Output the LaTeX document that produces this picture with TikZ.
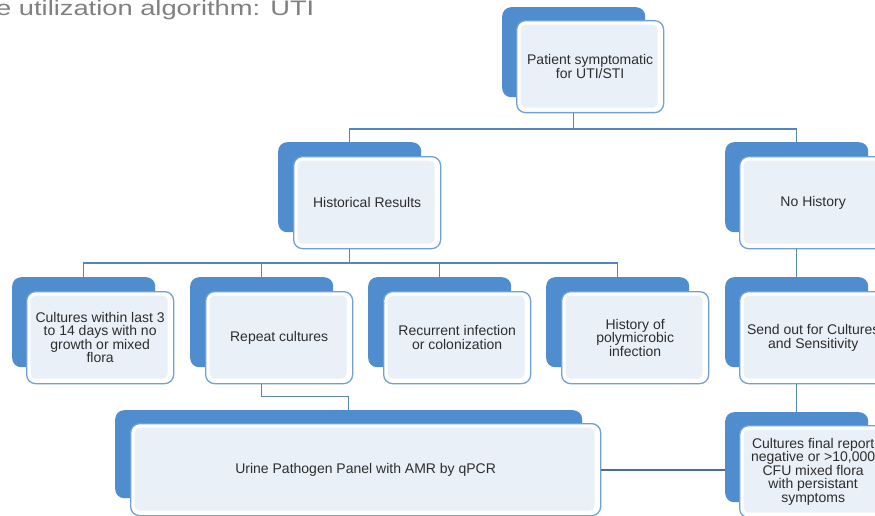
\documentclass[tikz,border=0pt]{standalone}
\usepackage{fontspec}
\setmainfont{Liberation Sans}
\usepackage{graphicx}
\begin{document}
\begin{tikzpicture}[x=1pt, y=-1pt,
    backbox/.style={fill=boxblue, rounded corners=9pt, minimum width=143pt, minimum height=90pt, anchor=north west, inner sep=0pt},
    frontbox/.style={draw=edgeblue, line width=1.3pt, fill=white, rounded corners=9pt, minimum width=147pt, minimum height=92pt, anchor=north west, inner sep=2pt, align=center, text=textgray, font={\fontsize{14}{13.5}\selectfont},
        path picture={\fill[panefill, rounded corners=5pt] ([xshift=4pt,yshift=5pt]path picture bounding box.south west) rectangle ([xshift=-6pt,yshift=-4pt]path picture bounding box.north east);}},
    link/.style={draw=linkblue, line width=1.5pt}]
    % Define colors
    \definecolor{boxblue}{RGB}{80, 141, 206}
    \definecolor{edgeblue}{RGB}{112, 160, 214}
    \definecolor{panefill}{RGB}{234, 240, 248}
    \definecolor{linkblue}{RGB}{86, 133, 190}
    \definecolor{darklink}{RGB}{68, 108, 168}
    \definecolor{textgray}{RGB}{45, 45, 45}
    \definecolor{titlegray}{RGB}{128, 128, 128}

    % Canvas
    \useasboundingbox (0, 0) rectangle (875, 516);
    \fill[white] (0, 0) rectangle (875, 516);

    % Title (cut at the left edge)
    \node[anchor=base west, text=titlegray, font={\fontsize{21}{21}\selectfont}, inner sep=0pt] (title) at (-4, 16) {\scalebox{1.3}[1]{e utilization algorithm: UTI}};

    % Top
    \node[backbox] (top-b) at (502, 7) {};
    \node[frontbox] (top) at (516, 20) {Patient symptomatic\\for UTI/STI};

    % Second level
    \node[backbox] (hist-b) at (278, 142) {};
    \node[frontbox] (hist) at (293, 156) {Historical Results};
    \node[backbox] (nohist-b) at (725, 142) {};
    \node[frontbox] (nohist) at (739, 156) {No History};

    % Third level
    \node[backbox] (cult-b) at (12, 277) {};
    \node[frontbox] (cult) at (26, 291) {Cultures within last 3\\to 14 days with no\\growth or mixed\\flora};
    \node[backbox] (rep-b) at (190, 277) {};
    \node[frontbox] (rep) at (205, 291) {Repeat cultures};
    \node[backbox] (recur-b) at (368, 277) {};
    \node[frontbox] (recur) at (383, 291) {Recurrent infection\\or colonization};
    \node[backbox] (poly-b) at (546, 277) {};
    \node[frontbox] (poly) at (561, 291) {History of\\polymicrobic\\infection};
    \node[backbox] (send-b) at (725, 277) {};
    \node[frontbox] (send) at (739, 291) {Send out for Cultures\\and Sensitivity};

    % Bottom
    \node[backbox, minimum width=467pt, minimum height=88pt] (urine-b) at (115, 410) {};
    \node[frontbox, minimum width=470pt] (urine) at (130, 423) {Urine Pathogen Panel with AMR by qPCR};
    \node[backbox] (final-b) at (725, 412) {};
    \node[frontbox] (final) at (739, 425) {Cultures final report\\negative or >10,000\\CFU mixed flora\\with persistant\\symptoms};

    % Connectors
    \coordinate (bus1) at (0, 129);
    \coordinate (bus2) at (0, 263);
    \draw[link] (top-b.center |- top.south) -- (top-b.center |- bus1);
    \draw[link] (hist-b.north) -- (hist-b.north |- bus1) -- (nohist-b.north |- bus1) -- (nohist-b.north);
    \draw[link] (hist-b.center |- hist.south) -- (hist-b.center |- bus2);
    \draw[link] (cult-b.north) -- (cult-b.north |- bus2) -- (poly-b.north |- bus2) -- (poly-b.north);
    \draw[link] (rep-b.north) -- (rep-b.north |- bus2);
    \draw[link] (recur-b.north) -- (recur-b.north |- bus2);
    \draw[link] (nohist-b.center |- nohist.south) -- (send-b.north);
    \draw[link] (send-b.center |- send.south) -- (final-b.north);
    \draw[link] (rep-b.center |- rep.south) -- ++(0, 12) -| (urine-b.north);
    \draw[link, draw=darklink, line width=2.2pt] (urine.east) -- (urine.east -| final-b.west);
\end{tikzpicture}
\end{document}
